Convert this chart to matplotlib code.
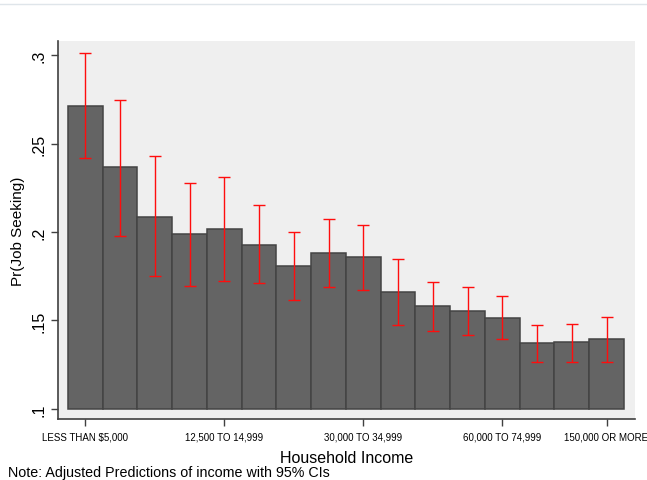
import matplotlib
matplotlib.use("Agg")
import matplotlib.pyplot as plt
import numpy as np
from matplotlib.lines import Line2D

plt.rcParams['font.family'] = ['Liberation Sans', 'DejaVu Sans']

categories = ["LESS THAN $5,000", "5,000 TO 7,499", "7,500 TO 9,999", "10,000 TO 12,499",
              "12,500 TO 14,999", "15,000 TO 19,999", "20,000 TO 24,999", "25,000 TO 29,999",
              "30,000 TO 34,999", "35,000 TO 39,999", "40,000 TO 49,999", "50,000 TO 59,999",
              "60,000 TO 74,999", "75,000 TO 99,999", "100,000 TO 149,999", "150,000 OR MORE"]
pred = [0.2712, 0.2366, 0.2087, 0.1987, 0.2019, 0.1927, 0.1808, 0.1883,
        0.1861, 0.1661, 0.1582, 0.1556, 0.1512, 0.1371, 0.1379, 0.1397]
ci_low = [0.2416, 0.1976, 0.1753, 0.1697, 0.1721, 0.1710, 0.1618, 0.1691,
          0.1674, 0.1476, 0.1439, 0.1420, 0.1395, 0.1267, 0.1267, 0.1267]
ci_high = [0.3013, 0.2748, 0.2428, 0.2279, 0.2313, 0.2151, 0.2002, 0.2075,
           0.2038, 0.1847, 0.1718, 0.1691, 0.1637, 0.1476, 0.1482, 0.1520]
labeled_idx = [0, 4, 8, 12, 15]
yticks = [0.1, 0.15, 0.2, 0.25, 0.3]
ytick_labels = [".1", ".15", ".2", ".25", ".3"]

fig = plt.figure(figsize=(6.47, 4.81), dpi=100)
ax = fig.add_axes([57.7/647, 61/481, (635-57.7)/647, (420-42)/481])
ax.set_facecolor('#efefef')

x = np.arange(len(categories))
base = 0.1
ax.bar(x, np.array(pred) - base, bottom=base, width=1.0, color='#646464',
       edgecolor='#444444', linewidth=1.1, zorder=2)
pred_a = np.array(pred)
ax.errorbar(x, pred_a, yerr=[pred_a - np.array(ci_low), np.array(ci_high) - pred_a],
            fmt='none', ecolor='#ff0d0d', elinewidth=1.0, capsize=4, capthick=1.0, zorder=3)

ax.set_xlim(-0.794, 15.82)
ax.set_ylim(0.09435, 0.30791)

ax.set_yticks(yticks)
ax.set_yticklabels(ytick_labels, rotation=90, va='center', fontsize=11.5)
ax.set_xticks([x[i] for i in labeled_idx])
ax.set_xticklabels([categories[i] for i in labeled_idx], fontsize=7)
ax.tick_params(axis='both', color='#404040', length=5, width=1)
ax.tick_params(axis='x', pad=4)
ax.tick_params(axis='y', pad=3)

for s in ['top', 'right']:
    ax.spines[s].set_visible(False)
for s in ['left', 'bottom']:
    ax.spines[s].set_color('#404040')
    ax.spines[s].set_linewidth(1.2)

ax.set_ylabel("Pr(Job Seeking)", fontsize=11, labelpad=5)
ax.set_xlabel("Household Income", fontsize=11.5, labelpad=6)

fig.text(8/647, 1 - 473/481, "Note: Adjusted Predictions of income with 95% CIs",
         fontsize=10.3, va='center', ha='left')
fig.add_artist(Line2D([0, 1], [1 - 5/481, 1 - 5/481], color='#dfe5ea', linewidth=1))

fig.savefig("out.png", dpi=100)
